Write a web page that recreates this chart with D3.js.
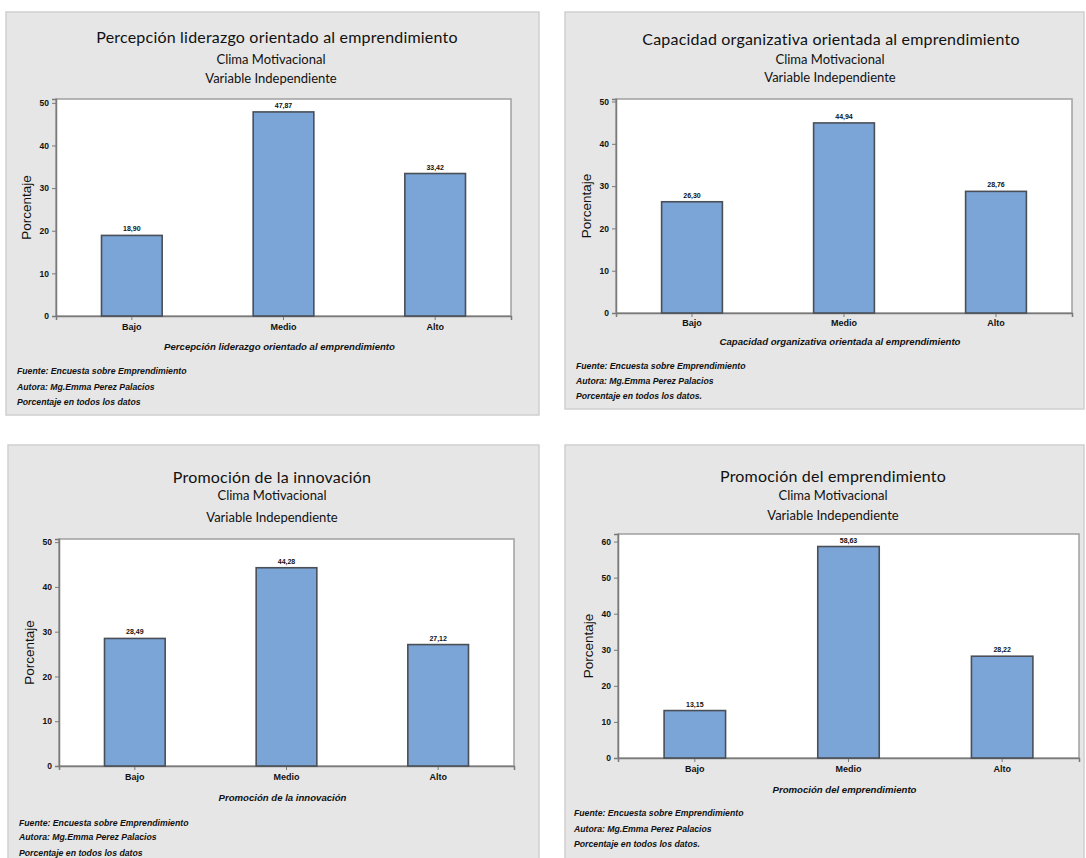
<!DOCTYPE html>
<html>
<head>
<meta charset="utf-8">
<script src="https://cdn.jsdelivr.net/npm/d3@7"></script>
<style>
  html, body { margin: 0; padding: 0; background: #ffffff; }
  svg { display: block; }
  .title { font-family: Lato, "Open Sans", sans-serif; fill: #111; }
  .tick-lbl, .cat-lbl, .val-lbl, .x-title, .note { font-family: "Liberation Sans", Arial, sans-serif; fill: #111; }
</style>
</head>
<body>
<svg id="chart" width="1086" height="858"></svg>
<script>
// Categories shared by all four charts
const categories = ["Bajo", "Medio", "Alto"];

// Percentages per category (Bajo, Medio, Alto)
const valuesLiderazgo  = [18.90, 47.87, 33.42];
const valuesCapacidad  = [26.30, 44.94, 28.76];
const valuesInnovacion = [28.49, 44.28, 27.12];
const valuesPromocion  = [13.15, 58.63, 28.22];

// Y-axis tick labels
const ticks50 = [0, 10, 20, 30, 40, 50];
const ticks60 = [0, 10, 20, 30, 40, 50, 60];

// Chart titles and x-axis titles
const chartTitles = [
  "Percepción liderazgo orientado al emprendimiento",
  "Capacidad organizativa orientada al emprendimiento",
  "Promoción de la innovación",
  "Promoción del emprendimiento"
];
const subTitles = ["Clima Motivacional", "Variable Independiente"];
const xTitles = [
  "Percepción liderazgo orientado al emprendimiento",
  "Capacidad organizativa orientada al emprendimiento",
  "Promoción de la innovación",
  "Promoción del emprendimiento"
];
const yTitle = "Porcentaje";

// Source notes under each chart
const notesA = ["Fuente: Encuesta sobre Emprendimiento", "Autora: Mg.Emma Perez Palacios", "Porcentaje en todos los datos"];
const notesB = ["Fuente: Encuesta sobre Emprendimiento", "Autora: Mg.Emma Perez Palacios", "Porcentaje en todos los datos."];

// Panel geometry
const panels = [
  { values: valuesLiderazgo, ticks: ticks50, yMax: 50.9, notes: notesA,
    box: { x: 6, y: 12, w: 533, h: 403 }, plot: { x: 56, y: 99, w: 455, h: 217 },
    cx: 271, titleX: 277, titleY: [37, 59, 78], catY: 327, xTitleY: 347, notesX: 17, notesY: [371, 387, 402] },
  { values: valuesCapacidad, ticks: ticks50, yMax: 50.6, notes: notesB,
    box: { x: 565, y: 12, w: 519, h: 397 }, plot: { x: 616, y: 99, w: 456, h: 214 },
    cx: 830, titleX: 831, titleY: [39, 59, 77], catY: 323, xTitleY: 342, notesX: 576, notesY: [366, 381, 396] },
  { values: valuesInnovacion, ticks: ticks50, yMax: 50.7, notes: notesA,
    box: { x: 8, y: 445, w: 531, h: 420 }, plot: { x: 59, y: 539, w: 455, h: 227 },
    cx: 272, titleX: 272, titleY: [477, 495, 517], catY: 777, xTitleY: 798, notesX: 19, notesY: [823, 837, 853] },
  { values: valuesPromocion, ticks: ticks60, yMax: 62.1, notes: notesB,
    box: { x: 565, y: 445, w: 519, h: 420 }, plot: { x: 618, y: 534, w: 461, h: 224 },
    cx: 833, titleX: 833, titleY: [476, 495, 515], catY: 769, xTitleY: 790, notesX: 574, notesY: [813, 829, 844] }
];

const fmt = v => d3.format(".2f")(v).replace(".", ",");
const svg = d3.select("#chart");

panels.forEach((p, i) => {
  const g = svg.append("g");

  // panel background
  g.append("rect")
    .attr("x", p.box.x).attr("y", p.box.y).attr("width", p.box.w).attr("height", p.box.h)
    .attr("fill", "#e6e6e6").attr("stroke", "#cfcfcf").attr("stroke-width", 1.5);

  // titles
  g.append("text").attr("class", "title")
    .attr("x", p.titleX).attr("y", p.titleY[0]).attr("dy", "0.35em")
    .attr("text-anchor", "middle").attr("font-size", 16).attr("letter-spacing", 0.2)
    .text(chartTitles[i]);
  subTitles.forEach((s, k) => {
    g.append("text").attr("class", "title")
      .attr("x", p.cx).attr("y", p.titleY[k + 1]).attr("dy", "0.35em")
      .attr("text-anchor", "middle").attr("font-size", 13)
      .text(s);
  });

  // scales
  const x = d3.scaleBand().domain(categories)
    .range([p.plot.x, p.plot.x + p.plot.w]).paddingInner(0.6).paddingOuter(0.3);
  const y = d3.scaleLinear().domain([0, p.yMax])
    .range([p.plot.y + p.plot.h, p.plot.y]);

  // plot area
  g.append("rect")
    .attr("x", p.plot.x).attr("y", p.plot.y).attr("width", p.plot.w).attr("height", p.plot.h)
    .attr("fill", "#ffffff").attr("stroke", "#a0a0a0").attr("stroke-width", 1.5);

  // y axis
  const yAxis = d3.axisLeft(y).tickValues(p.ticks).tickSize(4).tickPadding(3).tickFormat(d3.format("d"));
  const ya = g.append("g").attr("transform", `translate(${p.plot.x},0)`).call(yAxis);
  ya.select(".domain").attr("stroke", "#7a7a7a").attr("stroke-width", 1.5);
  ya.selectAll(".tick line").attr("stroke", "#7a7a7a");
  ya.selectAll(".tick text").attr("class", "tick-lbl")
    .attr("font-size", 8.5).attr("font-weight", "bold").attr("fill", "#111");

  // x axis
  const xAxis = d3.axisBottom(x).tickSize(4).tickFormat(() => "");
  const xa = g.append("g").attr("transform", `translate(0,${p.plot.y + p.plot.h})`).call(xAxis);
  xa.select(".domain").attr("stroke", "#7a7a7a").attr("stroke-width", 1.5);
  xa.selectAll(".tick line").attr("stroke", "#7a7a7a");

  // category labels
  g.selectAll(".cat-lbl").data(categories).enter().append("text")
    .attr("class", "cat-lbl")
    .attr("x", d => x(d) + x.bandwidth() / 2).attr("y", p.catY).attr("dy", "0.35em")
    .attr("text-anchor", "middle").attr("font-size", 9).attr("font-weight", "bold")
    .text(d => d);

  // bars
  g.selectAll(".bar").data(p.values).enter().append("rect")
    .attr("class", "bar")
    .attr("x", (d, k) => x(categories[k])).attr("width", x.bandwidth())
    .attr("y", d => y(d)).attr("height", d => y(0) - y(d))
    .attr("fill", "#7ba4d7").attr("stroke", "#4a4f57").attr("stroke-width", 1.6);

  // value labels
  g.selectAll(".val-lbl").data(p.values).enter().append("text")
    .attr("class", "val-lbl")
    .attr("x", (d, k) => x(categories[k]) + x.bandwidth() / 2).attr("y", d => y(d) - 4)
    .attr("text-anchor", "middle").attr("font-size", 7).attr("font-weight", "bold")
    .text(d => fmt(d));

  // axis titles
  g.append("text").attr("class", "x-title")
    .attr("x", p.plot.x + p.plot.w / 2 - 4).attr("y", p.xTitleY).attr("dy", "0.35em")
    .attr("text-anchor", "middle").attr("font-size", 9.6)
    .attr("font-style", "italic").attr("font-weight", "bold")
    .text(xTitles[i]);
  g.append("text")
    .attr("transform", `translate(${p.plot.x - 30},${p.plot.y + p.plot.h / 2}) rotate(-90)`)
    .attr("dy", "0.35em").attr("text-anchor", "middle")
    .attr("font-family", "Liberation Sans, Arial, sans-serif").attr("font-size", 13.5).attr("fill", "#111")
    .text(yTitle);

  // notes
  g.selectAll(".note").data(p.notes).enter().append("text")
    .attr("class", "note")
    .attr("x", p.notesX).attr("y", (d, k) => p.notesY[k]).attr("dy", "0.35em")
    .attr("font-size", 8.7).attr("font-style", "italic").attr("font-weight", 600)
    .text(d => d);
});
</script>
</body>
</html>
